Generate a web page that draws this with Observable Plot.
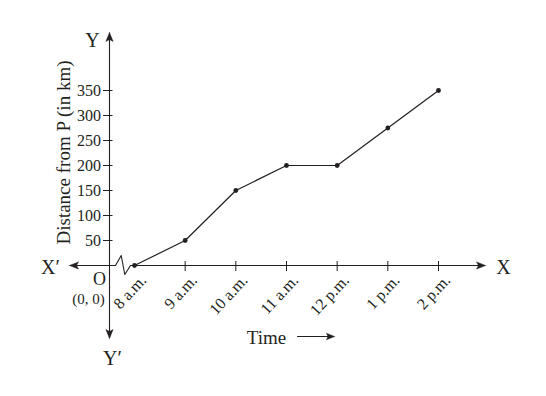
<!DOCTYPE html>
<html><head><meta charset="utf-8">
<script src="https://cdn.jsdelivr.net/npm/d3@7"></script>
<script src="https://cdn.jsdelivr.net/npm/@observablehq/plot@0.6"></script>
<style>body{margin:0;background:#fff} svg{display:block}</style>
</head><body><div id="chart"></div>
<script>
// ---- data ----
const timeLabels = ["8 a.m.", "9 a.m.", "10 a.m.", "11 a.m.", "12 p.m.", "1 p.m.", "2 p.m."];
const hours = [8, 9, 10, 11, 12, 13, 14];
const distances = [0, 50, 150, 200, 200, 275, 350];
const yTicks = [50, 100, 150, 200, 250, 300, 350];
const data = hours.map((h, i) => ({h, label: timeLabels[i], d: distances[i]}));

// ---- layout ----
const W = 546, H = 396;
const X_DOMAIN = [8, 14], X_RANGE = [134, 438];
const Y_DOMAIN = [0, 350], Y_RANGE = [265, 90];
const hx = px => X_DOMAIN[0] + (px - X_RANGE[0]) * (X_DOMAIN[1] - X_DOMAIN[0]) / (X_RANGE[1] - X_RANGE[0]);
const vy = py => Y_DOMAIN[0] + (py - Y_RANGE[0]) * (Y_DOMAIN[1] - Y_DOMAIN[0]) / (Y_RANGE[1] - Y_RANGE[0]);
const ink = "#231f20";
const serif = "'Liberation Serif', 'Times New Roman', serif";
const OX = 109, OY = 265;
const labelShift = hx(X_RANGE[0] + 9) - X_DOMAIN[0];

const P = pts => pts.map(([x, y]) => ({x: hx(x), y: vy(y)}));
function head(x, y, ang, len = 9, hw = 3.6, notch = 2) {
  const a = ang * Math.PI / 180, c = Math.cos(a), s = Math.sin(a);
  const loc = [[0, 0], [-len, -hw], [-len + notch, 0], [-len, hw], [0, 0]];
  return P(loc.map(([u, v]) => [x + u * c - v * s, y + u * s + v * c]));
}

const xAxisRight = P([[OX, OY], [115, OY], [120.7, 255], [124.3, 274], [130, OY], [480, OY]]);
const xAxisLeftSeg = P([[OX, OY], [75, OY]]);
const yAxisSeg = P([[OX, 38], [OX, 332]]);
const timeArrow = P([[297, 336], [328, 336]]);
const heads = [head(485, OY, 0), head(69, OY, 180), head(OX, 32, -90), head(OX, 338, 90), head(334, 336, 0, 8, 3.2, 1.5)];

const tx = (text, x, y, size, extra = {}) =>
  Plot.text([text], {x: hx(x), y: vy(y), text: d => d, fontSize: size, fontFamily: serif, fill: ink, ...extra});

const plot = Plot.plot({
  width: W, height: H,
  marginTop: 0, marginRight: 0, marginBottom: 0, marginLeft: 0,
  x: {domain: X_DOMAIN, range: X_RANGE, axis: null},
  y: {domain: Y_DOMAIN, range: Y_RANGE, axis: null},
  style: {background: "#fff", overflow: "visible", fontFamily: serif},
  marks: [
    Plot.line(xAxisRight, {x: "x", y: "y", stroke: ink, strokeWidth: 1.1}),
    Plot.line(xAxisLeftSeg, {x: "x", y: "y", stroke: ink, strokeWidth: 1.1}),
    Plot.line(yAxisSeg, {x: "x", y: "y", stroke: ink, strokeWidth: 1.1}),
    Plot.line(timeArrow, {x: "x", y: "y", stroke: ink, strokeWidth: 1.1}),
    ...heads.map(hd => Plot.line(hd, {x: "x", y: "y", fill: ink, stroke: ink, strokeWidth: 0.5})),
    // y ticks
    Plot.link(yTicks, {x1: hx(102.5), x2: hx(112), y1: d => d, y2: d => d, stroke: ink, strokeWidth: 1}),
    Plot.text(yTicks, {x: hx(100.5), y: d => d, text: d => String(d), textAnchor: "end", fontSize: 16, fontFamily: serif, fill: ink}),
    // x ticks
    Plot.link(hours.slice(1), {x1: d => d, x2: d => d, y1: vy(260.5), y2: vy(270.5), stroke: ink, strokeWidth: 1}),
    Plot.text(data, {x: d => d.h + labelShift, y: vy(277), text: "label", rotate: -47, textAnchor: "end", lineAnchor: "middle", fontSize: 16, fontFamily: serif, fill: ink}),
    // data line + dots
    Plot.line(data, {x: "h", y: "d", stroke: ink, strokeWidth: 1.2}),
    Plot.dot(data, {x: "h", y: "d", r: 2.4, fill: ink}),
    // annotations
    tx("Y", 92, 40, 20),
    tx("X", 503, 267, 20),
    tx("X\u2032", 50, 267, 20),
    tx("Y\u2032", 112, 358, 20),
    tx("O", 99, 279, 18),
    tx("(0, 0)", 88, 299, 15),
    tx("Time", 266, 337, 19),
    tx("Distance from P (in km)", 63, 152, 19, {rotate: -90})
  ]
});
document.getElementById("chart").appendChild(plot);
</script>
</body></html>
